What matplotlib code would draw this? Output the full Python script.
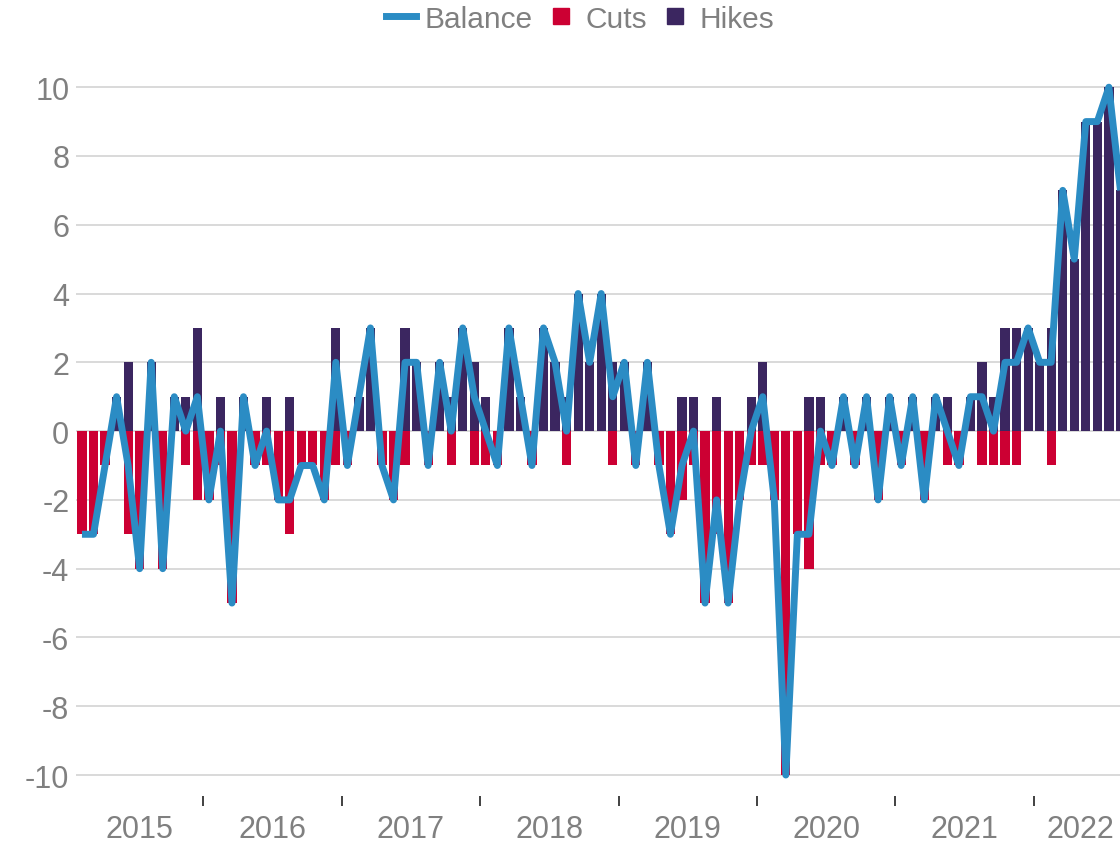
import matplotlib
matplotlib.use("Agg")
import matplotlib.pyplot as plt
from matplotlib.lines import Line2D
import numpy as np

plt.rcParams['font.family'] = ['Liberation Sans', 'DejaVu Sans']

# Monthly data, Feb 2015 .. Aug 2022
years = ['2015', '2016', '2017', '2018', '2019', '2020', '2021', '2022']
months_per_year = [11, 12, 12, 12, 12, 12, 12, 8]

hikes = [0, 0, 0, 1, 2, 0, 2, 0, 1, 1, 3,
         0, 1, 0, 1, 0, 1, 0, 1, 0, 0, 0, 3,
         0, 1, 3, 0, 0, 3, 2, 0, 2, 1, 3, 2,
         1, 0, 3, 1, 0, 3, 2, 1, 4, 2, 4, 2,
         2, 0, 2, 0, 0, 1, 1, 0, 1, 0, 0, 1,
         2, 0, 0, 0, 1, 1, 0, 1, 0, 1, 0, 1,
         0, 1, 0, 1, 1, 0, 1, 2, 1, 3, 3, 3,
         2, 3, 7, 5, 9, 9, 10, 7]

cuts = [-3, -3, -1, 0, -3, -4, 0, -4, 0, -1, -2,
        -2, -1, -5, 0, -1, -1, -2, -3, -1, -1, -2, -1,
        -1, 0, 0, -1, -2, -1, 0, -1, 0, -1, 0, -1,
        -1, -1, 0, 0, -1, 0, 0, -1, 0, 0, 0, -1,
        0, -1, 0, -1, -3, -2, -1, -5, -3, -5, -2, -1,
        -1, -2, -10, -3, -4, -1, -1, 0, -1, 0, -2, 0,
        -1, 0, -2, 0, -1, -1, 0, -1, -1, -1, -1, 0,
        0, -1, 0, 0, 0, 0, 0, 0]

balance = [-3, -3, -1, 1, -1, -4, 2, -4, 1, 0, 1,
           -2, 0, -5, 1, -1, 0, -2, -2, -1, -1, -2, 2,
           -1, 1, 3, -1, -2, 2, 2, -1, 2, 0, 3, 1,
           0, -1, 3, 1, -1, 3, 2, 0, 4, 2, 4, 1,
           2, -1, 2, -1, -3, -1, 0, -5, -2, -5, -2, 0,
           1, -2, -10, -3, -3, 0, -1, 1, -1, 1, -2, 1,
           -1, 1, -2, 1, 0, -1, 1, 1, 0, 2, 2, 3,
           2, 2, 7, 5, 9, 9, 10, 7]

C_BAL = '#2b8cc4'
C_CUT = '#cc0033'
C_HIKE = '#3b2660'
C_TXT = '#808080'
C_GRID = '#d9d9d9'

W, H = 1120, 845
fig = plt.figure(figsize=(W / 100, H / 100), dpi=100)

# axes extends slightly beyond the right edge (chart cropped in reference)
ax_left = 76.2 / W
ax_right = 1126.2 / W
ax_bottom = (H - 797) / H
ax_top = (H - 71) / H
ax = fig.add_axes([ax_left, ax_bottom, ax_right - ax_left, ax_top - ax_bottom])

n = len(hikes)
x = np.arange(n)

ax.bar(x, hikes, width=0.8, color=C_HIKE, zorder=2, linewidth=0)
ax.bar(x, cuts, width=0.8, color=C_CUT, zorder=2, linewidth=0)
ax.plot(x, balance, color=C_BAL, linewidth=5, zorder=3,
        solid_joinstyle='round', solid_capstyle='butt')

ax.set_xlim(-0.5, n - 0.5)
ax.set_ylim(-10.61, 10.5)

ax.set_yticks(np.arange(-10, 11, 2))
ax.set_yticklabels([str(v) for v in range(-10, 11, 2)])
ax.grid(axis='y', color=C_GRID, linewidth=1.4, zorder=0)
ax.set_axisbelow(True)

# year boundaries as tick marks, labels centered in each year
bounds = np.cumsum(months_per_year) - 0.5
starts = np.concatenate([[-0.5], bounds[:-1]])
centers = (starts + bounds) / 2
ax.set_xticks(bounds[:-1])
ax.set_xticklabels([])
ax.set_xticks(centers, minor=True)
ax.set_xticklabels(years, minor=True)

ax.tick_params(axis='x', which='major', length=7.5, width=1.3, color='#333333', direction='out')
ax.tick_params(axis='x', which='minor', length=0, pad=13, labelsize=22, labelcolor=C_TXT)
ax.tick_params(axis='y', length=0, pad=5, labelsize=22, labelcolor=C_TXT)

for s in ax.spines.values():
    s.set_visible(False)

handles = [Line2D([0], [0], color=C_BAL, linewidth=5),
           Line2D([0], [0], color=C_CUT, marker='s', markersize=12, linestyle='None'),
           Line2D([0], [0], color=C_HIKE, marker='s', markersize=12, linestyle='None')]
fig.legend(handles, ['Balance', 'Cuts', 'Hikes'], loc='upper center',
           bbox_to_anchor=(580 / W, 1.018), ncol=3, frameon=False,
           fontsize=21.5, labelcolor=C_TXT, handlelength=1.0,
           handletextpad=0.3, columnspacing=0.45, borderpad=0.2)

fig.savefig('out.png', dpi=100)
